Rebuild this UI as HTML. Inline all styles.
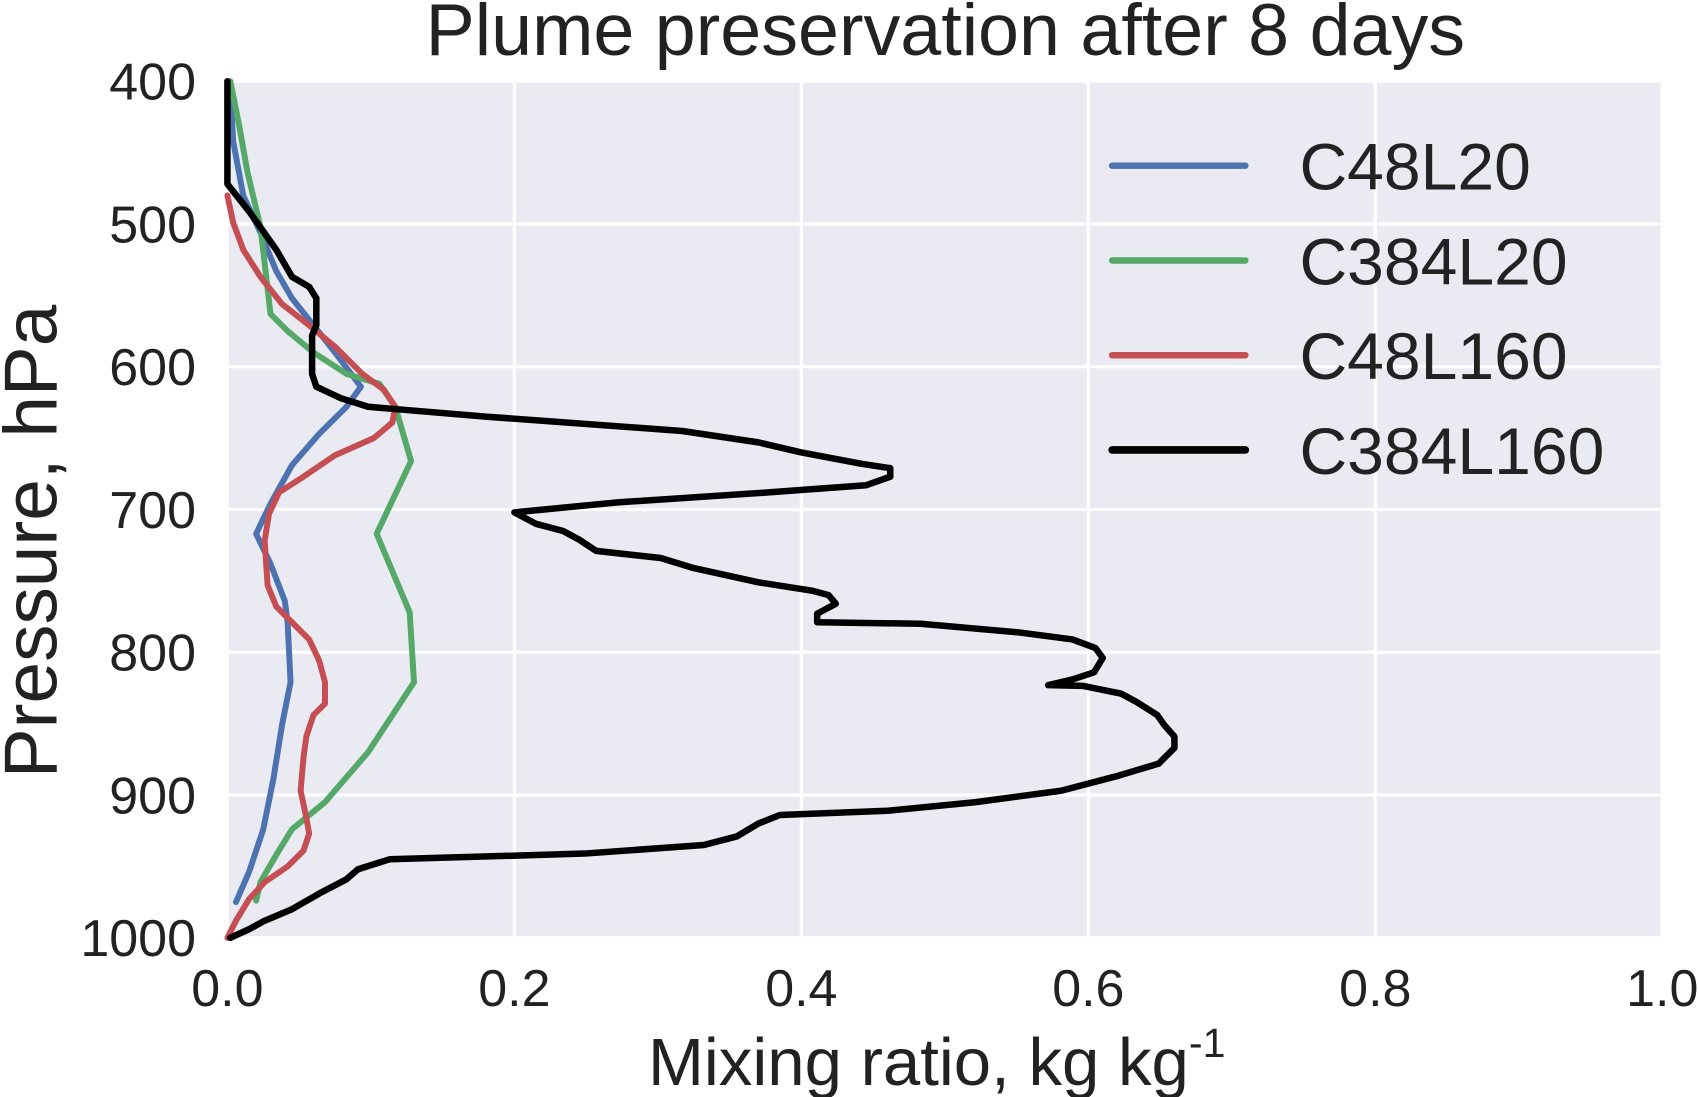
<!DOCTYPE html>
<html><head><meta charset="utf-8"><style>
html,body{margin:0;padding:0;background:#fff;}
svg{display:block;font-family:"Liberation Sans","DejaVu Sans",sans-serif;}
</style></head><body>
<svg id="chart" width="1698" height="1097" viewBox="0 0 1568 1013" preserveAspectRatio="none">
<rect x="210" y="75" width="1325" height="791" fill="#EAEAF2"/>
<g id="grid"></g>
<g id="ticks"></g>
<g id="series"></g>
<text x="873" y="51" font-size="68" text-anchor="middle" fill="#222">Plume preservation after 8 days</text>
<text x="865" y="1002" font-size="62" text-anchor="middle" fill="#222">Mixing ratio, kg kg<tspan font-size="38" dy="-26">-1</tspan></text>
<text transform="translate(52,500) rotate(-90)" font-size="69" text-anchor="middle" fill="#222">Pressure, hPa</text>
<g id="legend"></g>
</svg>
<script>
const xTicks=[0,0.2,0.4,0.6,0.8,1.0];
const xTickLabels=["0.0","0.2","0.4","0.6","0.8","1.0"];
const yTicks=[400,500,600,700,800,900,1000];
const yTickLabels=["400","500","600","700","800","900","1000"];
const seriesNames=["C48L20","C384L20","C48L160","C384L160"];
const seriesColors=["#4C72B0","#55A868","#C44E52","#000000"];
const c48l20X=[.002,.004,.011,.023,.034,.045,.060,.075,.093,.083,.064,.045,.030,.020,.030,.040,.042,.044,.038,.032,.025,.015,.006];
const c48l20P=[404,442,480,506,533,552,571,590,614,628,647,669,696,717,738,764,779,821,851,889,924,954,975];
const c384l20X=[.002,.008,.014,.023,.030,.042,.060,.083,.106,.117,.128,.104,.127,.130,.098,.068,.045,.034,.023,.020];
const c384l20P=[400,430,464,502,563,575,590,605,612,628,666,717,772,821,870,905,924,942,961,974];
const c48l160X=[0,.004,.011,.023,.038,.057,.075,.094,.109,.117,.115,.102,.075,.053,.036,.029,.026,.028,.034,.045,.057,.064,.068,.068,.060,.055,.053,.051,.055,.057,.053,.042,.026,.015,.006,0];
const c48l160P=[480,499,518,537,556,571,586,605,616,628,639,650,662,677,688,703,722,753,768,779,791,806,821,836,844,859,874,897,916,927,939,950,961,973,988,1000];
const c384l160X=[0,0,.015,.034,.045,.057,.062,.062,.059,.059,.062,.079,.098,.121,.181,.317,.370,.400,.442,.462,.462,.445,.377,.272,.200,.215,.234,.245,.257,.302,.325,.370,.408,.419,.424,.411,.411,.483,.551,.589,.605,.610,.604,.589,.572,.596,.623,.634,.648,.653,.660,.660,.649,.619,.581,.521,.460,.385,.370,.355,.332,.249,.113,.091,.083,.064,.045,.026,.015,.002];
const c384l160P=[400,472,491,518,537,544,552,571,578,605,614,622,628,630,635,645,653,660,668,671,677,683,688,695,702,710,715,721,729,734,741,751,757,760,766,773,779,780,786,791,797,804,814,819,823,823.5,829,835,844,851,859,867,878,887,897,905,911,914,920,929,935,941,945,952,959,969,980,988,994,1000];
const seriesX=[c48l20X,c384l20X,c48l160X,c384l160X];
const seriesP=[c48l20P,c384l20P,c48l160P,c384l160P];

const X0=210,X1=1535,Y0=75,Y1=866;
function sx(v){return X0+(v-0)/(1-0)*(X1-X0);}
function sy(p){return Y0+(p-400)/(1000-400)*(Y1-Y0);}
const NS="http://www.w3.org/2000/svg";
function mk(tag,attrs,parent){const e=document.createElementNS(NS,tag);for(const k in attrs)e.setAttribute(k,attrs[k]);parent.appendChild(e);return e;}
const grid=document.getElementById('grid'),ticks=document.getElementById('ticks'),series=document.getElementById('series'),legend=document.getElementById('legend');
xTicks.forEach((v,i)=>{
  const l=mk('line',{x1:sx(v),x2:sx(v),y1:Y0,y2:Y1,stroke:'#fff','stroke-width':3},grid);
  
  
  const t=mk('text',{x:sx(v),y:929,'font-size':48,'text-anchor':'middle',fill:'#222'},ticks);
  t.textContent=xTickLabels[i];
  
  
});
yTicks.forEach((v,i)=>{
  const l=mk('line',{x1:X0,x2:X1,y1:sy(v),y2:sy(v),stroke:'#fff','stroke-width':3},grid);
  
  
  const t=mk('text',{x:181,y:sy(v)+17,'font-size':48,'text-anchor':'end',fill:'#222'},ticks);
  t.textContent=yTickLabels[i];
  
  
});
seriesNames.forEach((n,i)=>{
  const pts=seriesX[i].map((x,j)=>sx(x).toFixed(1)+','+sy(seriesP[i][j]).toFixed(1)).join(' ');
  const pl=mk('polyline',{points:pts,fill:'none',stroke:seriesColors[i],'stroke-width':i===3?6:5.5,'stroke-linejoin':'round','stroke-linecap':'round'},series);
  
  
  const ly=153+i*87.5;
  const ll=mk('line',{x1:1027,x2:1150,y1:ly,y2:ly,stroke:seriesColors[i],'stroke-width':i===3?7:6,'stroke-linecap':'round'},legend);
  
  
  const lt=mk('text',{x:1200,y:ly+22,'font-size':61,fill:'#222'},legend);
  lt.textContent=n;
  
  
});
</script>
</body></html>
